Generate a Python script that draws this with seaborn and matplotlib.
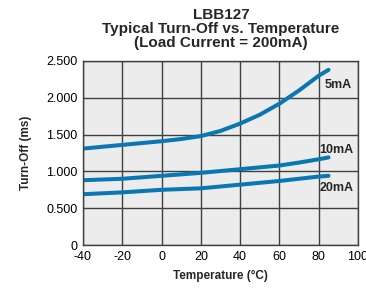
import matplotlib
matplotlib.use('Agg')
import numpy as np
import pandas as pd
import seaborn as sns
from matplotlib import pyplot as plt

# values
temps_5ma = [-40, -20, 0, 10, 20, 30, 40, 50, 60, 70, 80, 85]
turnoff_5ma = [1.31, 1.36, 1.41, 1.44, 1.48, 1.55, 1.65, 1.77, 1.92, 2.10, 2.30, 2.38]
temps_lo = [-40, -20, 0, 20, 40, 60, 70, 80, 85]
turnoff_10ma = [0.88, 0.90, 0.94, 0.98, 1.03, 1.08, 1.12, 1.165, 1.19]
turnoff_20ma = [0.69, 0.715, 0.75, 0.77, 0.82, 0.87, 0.90, 0.93, 0.94]
series_names = ['5mA', '10mA', '20mA']
label_pos = [(83.0, 2.18), (80.5, 1.29), (80.5, 0.78)]

x_ticks = [-40, -20, 0, 20, 40, 60, 80, 100]
y_ticks = [0, 0.5, 1.0, 1.5, 2.0, 2.5]
y_tick_labels = ['0', '0.500', '1.000', '1.500', '2.000', '2.500']

df = pd.concat([
    pd.DataFrame({'temp': temps_5ma, 'turnoff': turnoff_5ma, 'series': '5mA'}),
    pd.DataFrame({'temp': temps_lo, 'turnoff': turnoff_10ma, 'series': '10mA'}),
    pd.DataFrame({'temp': temps_lo, 'turnoff': turnoff_20ma, 'series': '20mA'}),
], ignore_index=True)

sns.set_style('white')
plt.rcParams['font.family'] = ['Liberation Sans', 'DejaVu Sans']

fig = plt.figure(figsize=(3.66, 2.89), dpi=100)
ax = fig.add_axes([83 / 366, 44 / 289, 275 / 366, 184 / 289])
ax.set_facecolor('#ececec')

line_color = '#0a77b5'
sns.lineplot(data=df, x='temp', y='turnoff', hue='series',
             palette=[line_color] * 3, linewidth=2.9, legend=False, ax=ax)

ax.set_xlim(-40, 100)
ax.set_ylim(0, 2.5)
ax.set_xticks(x_ticks)
ax.set_xticklabels([str(t) for t in x_ticks])
ax.set_yticks(y_ticks)
ax.set_yticklabels(y_tick_labels)
ax.grid(True, color='#404040', linewidth=1.0)
ax.set_axisbelow(True)
for s in ax.spines.values():
    s.set_color('#404040')
    s.set_linewidth(1.0)
ax.tick_params(length=0, labelsize=9, pad=4, colors='black')

ax.set_xlabel('Temperature (°C)', fontsize=8.5, fontweight='bold', labelpad=5)
ax.set_ylabel('Turn-Off (ms)', fontsize=8.5, fontweight='bold', labelpad=10)

for name, (lx, ly) in zip(series_names, label_pos):
    ax.text(lx, ly, name, fontsize=9, fontweight='bold', va='center', ha='left')

fig.text(221 / 366, 1 - 29 / 289, 'LBB127\nTypical Turn-Off vs. Temperature\n(Load Current = 200mA)',
         ha='center', va='center', fontsize=11, fontweight='bold', linespacing=1.02)

fig.savefig('out.png', dpi=100)
